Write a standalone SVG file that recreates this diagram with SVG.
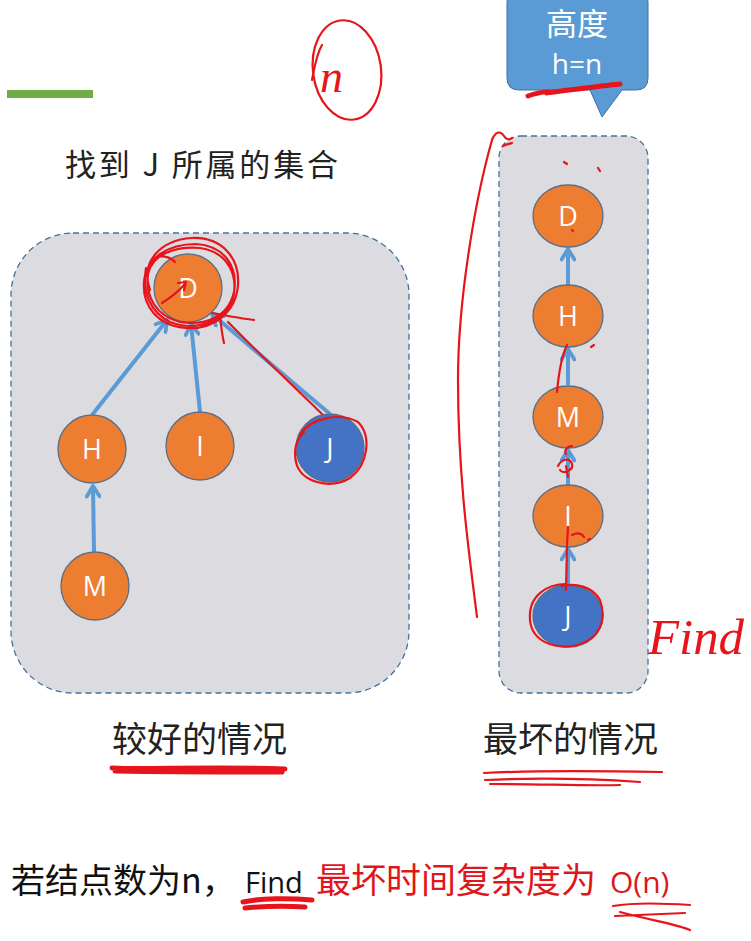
<svg xmlns="http://www.w3.org/2000/svg" width="751" height="941" viewBox="0 0 751 941">
<style>
.box{fill:#dcdce0;stroke:#41719c;stroke-width:1.3;stroke-dasharray:6 4}
.on{fill:#ed7d31;stroke:#5a6f86;stroke-width:1.3}
.bn{fill:#4472c4;stroke:#5a6f86;stroke-width:1.3}
.nt{font-family:"Open Sans","Liberation Sans",sans-serif;font-size:27px;fill:#fff;text-anchor:middle}
.edge{stroke:#5b9bd5;stroke-width:4;fill:none;marker-end:url(#arr)}
.cn{font-family:"Noto Sans CJK SC","Liberation Sans",sans-serif}
.ink{fill:none;stroke:#e8141b;stroke-width:2.2;stroke-linecap:round;stroke-linejoin:round}
.thick{fill:none;stroke:#e8141b;stroke-width:5;stroke-linecap:round}
</style>
<defs>
<marker id="arr" viewBox="0 0 10 10" markerWidth="16" markerHeight="16" refX="8" refY="5" orient="auto" markerUnits="userSpaceOnUse">
<path d="M1.5,1 L8,5 L1.5,9" fill="none" stroke="#5b9bd5" stroke-width="2.4" stroke-linecap="round" stroke-linejoin="round"/>
</marker>
</defs>
<rect width="751" height="941" fill="#fff"/>

<!-- green bar -->
<rect x="7" y="90" width="86" height="8" fill="#70ad47"/>

<text x="65" y="176" class="cn" font-size="31" fill="#222" textLength="273" lengthAdjust="spacing">找到 J 所属的集合</text>

<!-- callout -->
<g id="callout">
<path d="M519,-10 H636 Q648,-10 648,2 V78 Q648,90 636,90 H622 L602,117 L590,90 H519 Q507,90 507,78 V2 Q507,-10 519,-10 Z" fill="#5b9bd5" stroke="#41719c" stroke-width="1"/>
<text x="577" y="35" class="cn" font-size="31" fill="#fff" text-anchor="middle">高度</text>
<text x="577" y="74" font-family="Open Sans, Liberation Sans, sans-serif" font-size="28" fill="#fff" text-anchor="middle">h=n</text>
</g>

<!-- boxes -->
<rect id="leftBox" x="11" y="233" width="398" height="460" rx="62" class="box"/>
<rect id="rightBox" x="499" y="136" width="149" height="557" rx="22" class="box"/>

<!-- connectors -->
<g id="connectors">
<line x1="94" y1="552" x2="93" y2="486" class="edge"/>
<line x1="92" y1="415" x2="167" y2="320" class="edge"/>
<line x1="200" y1="412" x2="191" y2="324" class="edge"/>
<line x1="330" y1="414" x2="212" y2="314" class="edge"/>
<line x1="568" y1="285" x2="568" y2="249" class="edge"/>
<line x1="568" y1="385" x2="568" y2="349" class="edge"/>
<line x1="568" y1="485" x2="568" y2="450" class="edge"/>
<line x1="568" y1="584" x2="568" y2="549" class="edge"/>
</g>

<!-- left nodes -->
<g id="L_D"><circle cx="188" cy="288" r="34" class="on"/><text x="188" y="298" class="nt">D</text></g>
<g id="L_H"><circle cx="92" cy="449" r="34" class="on"/><text x="92" y="459" class="nt">H</text></g>
<g id="L_I"><circle cx="200" cy="446" r="34" class="on"/><text x="200" y="456" class="nt">I</text></g>
<g id="L_J"><circle cx="330" cy="448" r="34" class="bn"/><text x="330" y="458" class="nt">J</text></g>
<g id="L_M"><circle cx="95" cy="586" r="34" class="on"/><text x="95" y="596" class="nt">M</text></g>

<!-- right nodes -->
<g id="R_D"><ellipse cx="568" cy="216" rx="35" ry="31" class="on"/><text x="568" y="226" class="nt">D</text></g>
<g id="R_H"><ellipse cx="568" cy="316" rx="35" ry="31" class="on"/><text x="568" y="326" class="nt">H</text></g>
<g id="R_M"><ellipse cx="568" cy="417" rx="35" ry="31" class="on"/><text x="568" y="427" class="nt">M</text></g>
<g id="R_I"><ellipse cx="568" cy="516" rx="35" ry="31" class="on"/><text x="568" y="526" class="nt">I</text></g>
<g id="R_J"><ellipse cx="568" cy="616" rx="35" ry="31" class="bn"/><text x="568" y="626" class="nt">J</text></g>

<!-- labels -->
<text x="112" y="752" class="cn" font-size="35" fill="#222">较好的情况</text>
<text x="483" y="752" class="cn" font-size="35" fill="#222">最坏的情况</text>

<text x="11" y="893" class="cn" font-size="34" fill="#111">若结点数为n，</text>
<text x="245" y="893" font-family="Open Sans, Liberation Sans, sans-serif" font-size="29" fill="#111">Find</text>
<text x="316" y="893" class="cn" font-size="35" fill="#e0161b">最坏时间复杂度为</text>
<text x="610" y="893" font-family="Open Sans, Liberation Sans, sans-serif" font-size="30" fill="#e0161b">O(n)</text>

<!-- red annotations -->
<g id="annotations">
<ellipse cx="347" cy="70" rx="34" ry="50" transform="rotate(-8 347 70)" class="ink"/>
<path d="M322,45 C316,55 314,70 312,80" class="ink"/>
<text x="320" y="92" font-family="Liberation Serif, serif" font-style="italic" font-size="46" fill="#e8141b">n</text>
<path d="M528,96 C545,90 555,92 545,93 C570,90 600,86 620,84" class="thick" stroke-width="4"/>

<path d="M150,290 C140,262 160,240 192,238 C222,237 240,258 238,285 C236,312 214,330 186,328 C158,326 142,306 144,282 C146,258 168,244 196,244 C226,246 238,268 234,292 C228,318 204,326 180,322 C156,316 145,296 148,274 C152,254 176,246 200,248 C228,252 240,276 232,302 C222,322 196,332 170,322 C150,312 142,292 146,268 M150,262 C158,254 168,255 175,262" class="ink"/>
<path d="M162,303 C170,298 178,292 185,284 M178,283 L186,282 L184,290" class="ink"/>
<path d="M322,414 C300,392 265,360 228,322 M212,313 C228,316 245,319 254,320 M220,316 C221,325 222,335 224,343" class="ink"/>
<path d="M300,435 C310,418 340,412 358,422 C372,436 368,465 350,478 C330,490 300,482 296,462 C293,448 298,438 304,432" class="ink" stroke-width="2.8"/>
<path d="M112,768 C150,770 200,766 285,769 M115,771 C180,772 240,772 282,772" class="thick"/>

<path d="M484,773 C540,770 600,771 662,772 M485,780 C550,777 610,780 640,782 M490,784 C540,784 590,786 620,785" class="ink" stroke-width="2.5"/>

<path d="M477,617 C470,560 458,480 458,380 C458,300 475,200 492,140 C495,132 500,130 504,136 C506,140 510,140 512,138 M503,146 C506,144 510,144 512,143 M564,162 l3,2 M598,168 l2,3" class="ink"/>
<path d="M572,230 l1,1" class="ink"/>
<path d="M567,345 C562,355 559,370 557,392 M591,347 l3,-2" class="ink"/>
<path d="M572,446 C566,446 564,452 566,454 M558,466 C562,458 570,458 572,464 C574,470 563,475 560,470 M566,466 L568,477" class="ink"/>
<path d="M568,527 L567,545 L566,590 M572,535 C578,532 582,534 584,537 M588,540 l2,-1" class="ink"/>
<path d="M566,584 C548,584 528,595 530,620 C532,642 555,650 578,645 C600,638 607,620 600,600 C592,586 575,583 562,586" class="ink" stroke-width="2.8"/>
<text x="648" y="654" font-family="Liberation Serif, serif" font-style="italic" font-size="50" fill="#e8141b" textLength="96" lengthAdjust="spacingAndGlyphs">Find</text>

<path d="M243,902 C260,898 290,898 312,900 M245,908 C265,906 290,906 305,907" class="thick"/>
<path d="M613,906 C630,903 660,903 690,905 M615,916 C640,915 665,914 685,913 M620,912 C650,920 680,925 690,930" class="ink" stroke-width="3"/>
</g>
</svg>
